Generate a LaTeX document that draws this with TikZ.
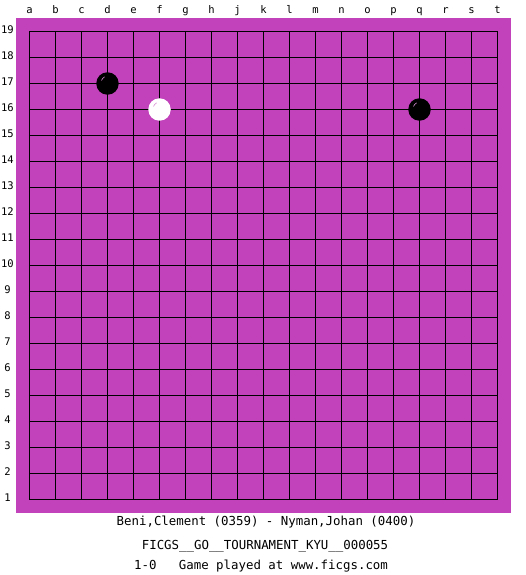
\documentclass[tikz,border=0pt]{standalone}
\usepackage{fontspec}
\setmonofont{DejaVu Sans Mono}
\definecolor{board}{RGB}{193,66,186}
\begin{document}
\begin{tikzpicture}[x=1pt,y=-1pt,
  lbl/.style={font=\ttfamily\fontsize{10.5}{11}\selectfont,inner sep=0pt,anchor=base},
  captxt/.style={font=\ttfamily\fontsize{12.4}{14}\selectfont,inner sep=0pt,anchor=base},
  gridline/.style={line width=1pt,black},
  bstone/.style={circle,fill=black,minimum size=22.5pt,inner sep=0pt},
  wstone/.style={circle,fill=white,minimum size=22.5pt,inner sep=0pt}]
\useasboundingbox (0,0) rectangle (525,575);
\fill[white] (0,0) rectangle (525,575);
\fill[board] (16,18) rectangle (511,513);
\foreach \i in {0,...,18} {
  \draw[gridline] (29.5+26*\i,31.5) -- (29.5+26*\i,499.5);
  \draw[gridline] (29.5,31.5+26*\i) -- (497.5,31.5+26*\i);
}
\foreach \l [count=\i from 0] in {a,b,c,d,e,f,g,h,j,k,l,m,n,o,p,q,r,s,t}
  \node[lbl] (col\l) at (29.5+26*\i,14) {\l};
\foreach \i in {0,...,18} {
  \pgfmathtruncatemacro{\r}{19-\i}
  \node[lbl] (row\r) at (7.5,33.5+26*\i) {\r};
}
\node[bstone] (d17) at (107.5,83.5) {};
\node[wstone] (f16) at (159.5,109.5) {};
\node[bstone] (q16) at (419.5,109.5) {};
\draw[board!60!white,line width=0.6pt] ([shift={(-6,-3)}]d17.center) arc[start angle=200,end angle=240,radius=7];
\draw[board!60!white,line width=0.6pt] ([shift={(-6,-3)}]q16.center) arc[start angle=200,end angle=240,radius=7];
\draw[board!60!white,line width=0.6pt] ([shift={(-6,-3)}]f16.center) arc[start angle=200,end angle=240,radius=7];
\node[captxt] (t1) at (266,525) {Beni,Clement (0359) - Nyman,Johan (0400)};
\node[captxt] (t2) at (265,549) {FICGS\_\_GO\_\_TOURNAMENT\_KYU\_\_000055};
\node[captxt] (t3) at (261,569) {1-0\ \ \ Game played at www.ficgs.com};
\end{tikzpicture}
\end{document}
